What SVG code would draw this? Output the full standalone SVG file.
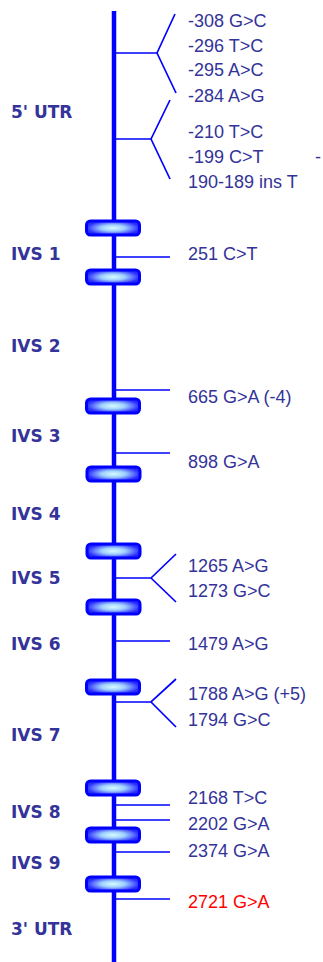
<svg xmlns="http://www.w3.org/2000/svg" width="323" height="962" viewBox="0 0 323 962">
<defs>
<radialGradient id="exg" cx="0.5" cy="0.5" r="0.5">
<stop offset="0" stop-color="#d8fbff"/>
<stop offset="0.45" stop-color="#9fd0ff"/>
<stop offset="1" stop-color="#2a2aff"/>
</radialGradient>
</defs>
<style>
.bb{fill:#ffffff}
.ax{stroke:#0000ff;stroke-width:4.5;fill:none}
.br{stroke:#0000ff;stroke-width:1.7;fill:none}
.ex{fill:url(#exg);stroke:#0000ff;stroke-width:3}
.lab{font-family:"DejaVu Sans",sans-serif;font-weight:bold;font-size:17px;fill:#333399}
.mut{font-family:"Liberation Sans",Arial,sans-serif;font-size:18px;fill:#333399}
.red{fill:#ff0000}
</style>
<rect class="bb" x="0" y="0" width="323" height="962"/>
<g id="connectors">
<line class="ax" x1="114" y1="11" x2="114" y2="962"/>
<polyline class="br" points="114,53 157,53 175,14"/>
<line class="br" x1="157" y1="53" x2="176" y2="93"/>
<polyline class="br" points="114,139 151,139 170,100"/>
<line class="br" x1="151" y1="139" x2="170" y2="179"/>
<line class="br" x1="114" y1="257" x2="170" y2="257"/>
<line class="br" x1="114" y1="390" x2="170" y2="390"/>
<line class="br" x1="114" y1="453" x2="170" y2="453"/>
<polyline class="br" points="114,578 151,578 176,554"/>
<line class="br" x1="151" y1="578" x2="176" y2="602"/>
<line class="br" x1="114" y1="641" x2="170" y2="641"/>
<polyline class="br" points="114,702 151,702 176,679"/>
<line class="br" x1="151" y1="702" x2="176" y2="727"/>
<line class="br" x1="114" y1="805" x2="170" y2="805"/>
<line class="br" x1="114" y1="820" x2="170" y2="820"/>
<line class="br" x1="114" y1="852" x2="170" y2="852"/>
<line class="br" x1="114" y1="899" x2="170" y2="899"/>
</g>
<g id="exon1"><rect class="ex" x="86.5" y="221" width="53" height="14" rx="4"/></g>
<g id="exon2"><rect class="ex" x="86.5" y="270" width="53" height="14" rx="4"/></g>
<g id="exon3"><rect class="ex" x="86.5" y="399" width="53" height="14" rx="4"/></g>
<g id="exon4"><rect class="ex" x="87" y="467" width="53" height="14" rx="4"/></g>
<g id="exon5"><rect class="ex" x="87" y="544" width="53" height="14" rx="4"/></g>
<g id="exon6"><rect class="ex" x="87" y="600" width="53" height="14" rx="4"/></g>
<g id="exon7"><rect class="ex" x="86.5" y="680" width="53" height="14" rx="4"/></g>
<g id="exon8"><rect class="ex" x="86.5" y="781" width="53" height="14" rx="4"/></g>
<g id="exon9"><rect class="ex" x="86.5" y="828" width="53" height="14" rx="4"/></g>
<g id="exon10"><rect class="ex" x="86.5" y="877" width="53" height="14" rx="4"/></g>
<g id="labels">
<text class="lab" x="11" y="118">5' UTR</text>
<text class="lab" x="11" y="260">IVS 1</text>
<text class="lab" x="11" y="352">IVS 2</text>
<text class="lab" x="11" y="442">IVS 3</text>
<text class="lab" x="11" y="520">IVS 4</text>
<text class="lab" x="11" y="584">IVS 5</text>
<text class="lab" x="11" y="650">IVS 6</text>
<text class="lab" x="11" y="741">IVS 7</text>
<text class="lab" x="11" y="818">IVS 8</text>
<text class="lab" x="11" y="869">IVS 9</text>
<text class="lab" x="11" y="935">3' UTR</text>
</g>
<g id="mutations">
<text class="mut" x="188" y="27">-308 G&gt;C</text>
<text class="mut" x="188" y="52">-296 T&gt;C</text>
<text class="mut" x="188" y="76">-295 A&gt;C</text>
<text class="mut" x="188" y="102">-284 A&gt;G</text>
<text class="mut" x="188" y="138">-210 T&gt;C</text>
<text class="mut" x="188" y="163">-199 C&gt;T</text>
<text class="mut" x="315" y="163">-</text>
<text class="mut" x="188" y="188">190-189 ins T</text>
<text class="mut" x="188" y="260">251 C&gt;T</text>
<text class="mut" x="188" y="403">665 G&gt;A (-4)</text>
<text class="mut" x="188" y="468">898 G&gt;A</text>
<text class="mut" x="188" y="572">1265 A&gt;G</text>
<text class="mut" x="188" y="597">1273 G&gt;C</text>
<text class="mut" x="188" y="650">1479 A&gt;G</text>
<text class="mut" x="188" y="700">1788 A&gt;G (+5)</text>
<text class="mut" x="188" y="726">1794 G&gt;C</text>
<text class="mut" x="188" y="804">2168 T&gt;C</text>
<text class="mut" x="188" y="830">2202 G&gt;A</text>
<text class="mut" x="188" y="857">2374 G&gt;A</text>
<text class="mut red" x="188" y="908">2721 G&gt;A</text>
</g>
</svg>
